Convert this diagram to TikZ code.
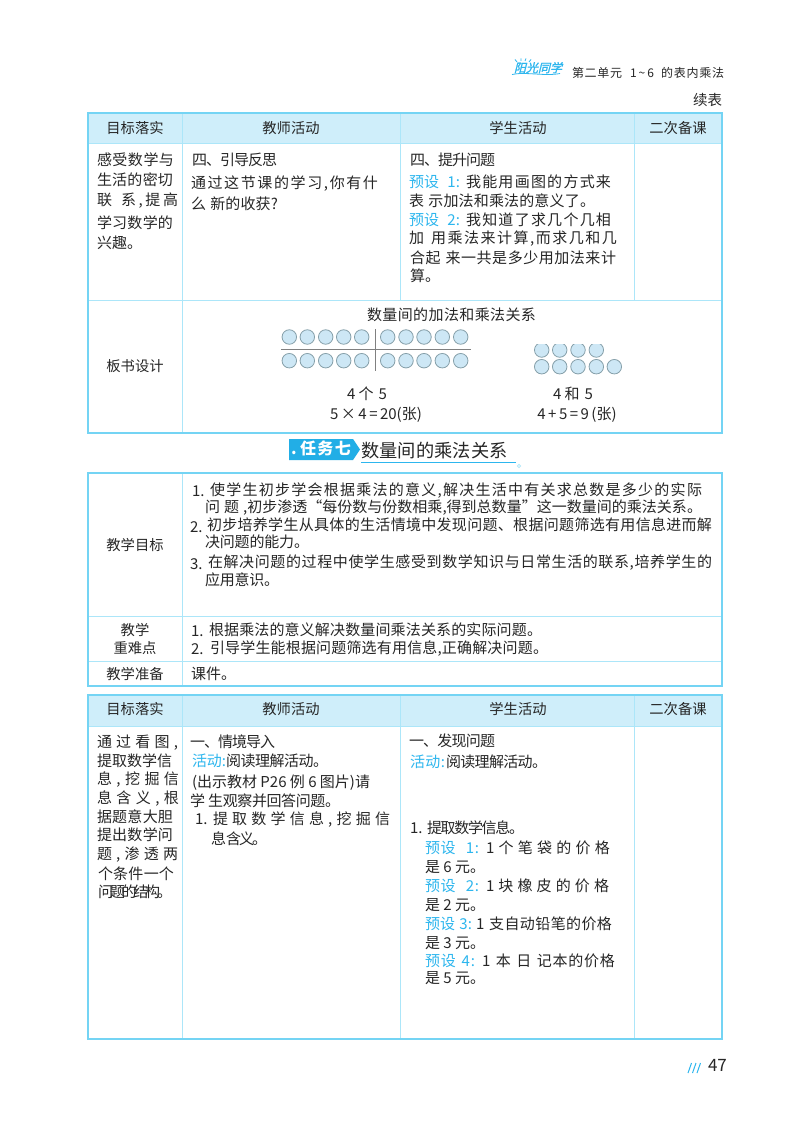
\documentclass[tikz,border=0pt]{standalone}
\usepackage{fontspec}
\setmainfont{Noto Sans CJK SC}
\newfontfamily\logofont[FakeSlant=0.25,FakeBold=1.5]{Noto Sans CJK SC}
\definecolor{ink}{HTML}{262626}
\definecolor{cy}{HTML}{2DB6EE}
\definecolor{outerl}{HTML}{74D4F4}
\definecolor{innerl}{HTML}{ACE6F9}
\definecolor{headf}{HTML}{CFEEFA}
\definecolor{badge}{HTML}{22AEE6}
\definecolor{dotf}{HTML}{CDE7F5}
\definecolor{dotl}{HTML}{86A0AA}
\definecolor{rul}{HTML}{808080}
\newcounter{tc}
\def\Jend{\Jend}
\def\gapw{\hskip 4pt}
\def\Jfirst#1{#1\Jrest}
\def\Jrest#1{\ifx#1\Jend\else\hskip 0pt plus 1fil minus 1fil #1\expandafter\Jrest\fi}
\newcommand\ptx[4][]{\stepcounter{tc}\node[txt,#1] (t\arabic{tc}) at (#2,#3+5.3) {#4};}
\newcommand\pct[4][]{\stepcounter{tc}\node[txt,anchor=base,#1] (t\arabic{tc}) at (#2,#3+5.3) {#4};}
\newcommand\pjt[5][]{\stepcounter{tc}\pgfmathsetlengthmacro\jw{(#3-#2)*1pt}\node[txt,#1] (t\arabic{tc}) at (#2,#4+5.3) {\makebox[\jw][s]{\Jfirst#5\Jend}};}
\tikzset{
 txt/.style={inner sep=0pt,outer sep=0pt,anchor=base west,text=ink,font=\fontsize{15}{15}\selectfont},
 head/.style={font=\fontsize{14.3}{15}\selectfont},
 blue/.style={text=cy},
 outerline/.style={draw=outerl,line width=1.25pt},
 innerline/.style={draw=innerl,line width=1pt},
 headfill/.style={fill=headf,draw=none},
 dotc/.style={circle,draw=dotl,fill=dotf,line width=0.8pt,minimum size=14.5pt,inner sep=0pt},
 rulel/.style={draw=rul,line width=0.9pt},
}
\begin{document}
\begin{tikzpicture}[x=1pt,y=-1pt]
\useasboundingbox (0,0) rectangle (800,1123);
\fill[white] (0,0) rectangle (800,1123);
% logo
\ptx[text=cy,font=\logofont\fontsize{12}{12}\selectfont]{514}{67}{阳光同学}
\ptx[text=cy,font=\fontsize{5}{5}\selectfont]{561}{62}{®}
\draw[cy,line width=0.8pt] (512,74.5) .. controls (525,71.5) and (545,76.5) .. (560,73.5);
\draw[cy,line width=0.8pt] (517,62) -- (515,59.5) (521,61) -- (521,58.5) (525,61) -- (526,58.5) (529,62) -- (531,59.5);
% running head
\pjt[font=\fontsize{12}{12}\selectfont]{572}{622}{72}{第二单元}
\ptx[font=\fontsize{12}{12}\selectfont]{630}{72}{1\,\textasciitilde\,6}
\pjt[font=\fontsize{12}{12}\selectfont]{661}{724}{72}{的表内乘法}
\pjt[font=\fontsize{14.5}{15}\selectfont]{693}{722}{100}{续表}
% table 1
\fill[headfill] (88,113) rectangle (722,144);
\draw[innerline] (88,144) -- (722,144) (88,300) -- (722,300);
\draw[innerline] (182,113) -- (182,433) (400,113) -- (400,300) (634,113) -- (634,300);
\draw[outerline] (88,113) rectangle (722,433);
\pct[head]{135}{128}{目标落实}
\pct[head]{291}{128}{教师活动}
\pct[head]{518}{128}{学生活动}
\pct[head]{678}{128}{二次备课}
\pjt{97}{174}{160}{感受数学与}
\pjt{97}{173}{180}{生活的密切}
\pjt{97}{178}{200}{联\gapw 系,提高}
\pjt{97}{173}{223}{学习数学的}
\ptx{97}{243}{兴趣。}
\pjt{192}{277}{160}{四、引导反思}
\pjt{191}{378}{183}{通过这节课的学习,你有什}
\pjt{191}{278}{204}{么\gapw 新的收获?}
\pjt{410}{495}{160}{四、提升问题}
\pjt[blue]{409}{460}{182}{预设\gapw\gapw 1:}
\pjt{466}{611}{182}{我能用画图的方式来}
\pjt{409}{595}{201}{表\gapw 示加法和乘法的意义了。}
\pjt[blue]{409}{460}{220}{预设\gapw\gapw 2:}
\pjt{466}{611}{220}{我知道了求几个几相}
\pjt{409}{617}{238}{加\gapw 用乘法来计算,而求几和几}
\pjt{410}{616}{258}{合起\gapw 来一共是多少用加法来计}
\ptx{410}{276}{算。}
\pct[head]{135}{366}{板书设计}
\pjt{367}{536}{315}{数量间的加法和乘法关系}
% dots
\foreach \i/\dx in {1/289.3,2/307.3,3/325.7,4/343.7,5/361.7,6/387.7,7/406,8/424,9/442.3,10/460.7}{
  \node[dotc] (up\i) at (\dx,337) {};
  \node[dotc] (lo\i) at (\dx,360.7) {};
}
\draw[rulel] (281,349.3) -- (470.7,349.3);
\draw[rulel] (375.7,329) -- (375.7,370.7);
\begin{scope}
\clip (530,344.3) rectangle (625,380);
\foreach \i/\dx in {1/541.7,2/559.7,3/578,4/596.3}
  \node[dotc] (ru\i) at (\dx,350) {};
\end{scope}
\foreach \i/\dx in {1/541.7,2/559.7,3/578,4/596.3,5/614.3}
  \node[dotc] (rl\i) at (\dx,366.7) {};
\pct{367}{394}{4 个\,\,5}
\pct{376}{414}{5\,×\,4\,=\,20(张)}
\pct{573}{394}{4 和\,\,5}
\pct{577}{414}{4\,+\,5\,=\,9\,(张)}
% title
\fill[badge] (289,439) -- (353,439) -- (360,449.5) -- (353,460) -- (289,460) -- cycle;
\ptx[text=white,font=\bfseries\fontsize{16}{17}\selectfont]{291}{449}{.}
\pjt[text=white,font=\bfseries\fontsize{16}{17}\selectfont]{300}{351}{449.5}{任务七}
\pjt[font=\fontsize{18.2}{19}\selectfont]{361}{508}{452}{数量间的乘法关系}
\draw[cy,line width=1pt] (361,462) -- (516,462);
\draw[innerl,line width=0.6pt,fill=white] (519,466) circle (1.6);
% table 2
\draw[innerline] (88,616) -- (722,616) (88,661) -- (722,661) (182,473) -- (182,686);
\draw[outerline] (88,473) rectangle (722,686);
\pct[head]{135}{545}{教学目标}
\ptx{192}{491}{1.}
\pjt{210}{702}{490}{使学生初步学会根据乘法的意义,解决生活中有关求总数是多少的实际}
\pjt{205}{702}{507}{问\gapw 题\gapw,初步渗透“每份数与份数相乘,得到总数量”这一数量间的乘法关系。}
\ptx{190}{527}{2.}
\pjt{207}{712}{525}{初步培养学生从具体的生活情境中发现问题、根据问题筛选有用信息进而解}
\pjt{205}{309}{542}{决问题的能力。}
\ptx{190}{564}{3.}
\pjt{208}{712}{562}{在解决问题的过程中使学生感受到数学知识与日常生活的联系,培养学生的}
\pjt{205}{279}{580}{应用意识。}
\pct[head]{135}{630}{教学}
\pct[head]{135}{648}{重难点}
\ptx{191}{631}{1.}
\pjt{209}{542}{630}{根据乘法的意义解决数量间乘法关系的实际问题。}
\ptx{191}{649}{2.}
\pjt{210}{548}{648}{引导学生能根据问题筛选有用信息,正确解决问题。}
\pct[head]{135}{674}{教学准备}
\ptx{191}{674}{课件。}
% table 3
\fill[headfill] (88,695) rectangle (722,726);
\draw[innerline] (88,726) -- (722,726);
\draw[innerline] (182,695) -- (182,1039) (400,695) -- (400,1039) (634,695) -- (634,1039);
\draw[outerline] (88,695) rectangle (722,1039);
\pct[head]{135}{709}{目标落实}
\pct[head]{291}{709}{教师活动}
\pct[head]{518}{709}{学生活动}
\pct[head]{678}{709}{二次备课}
\pjt{97}{178}{742}{通过看图,}
\pjt{97}{172}{761}{提取数学信}
\pjt{97}{179}{779}{息,挖掘信}
\pjt{97}{179}{798}{息含义,根}
\pjt{97}{173}{817}{据题意大胆}
\pjt{97}{173}{835}{提出数学问}
\pjt{97}{178}{854}{题,渗透两}
\pjt{98}{174}{874}{个条件一个}
\pjt{98}{172}{892}{问题的结构。}
\pjt{190}{275}{742}{一、情境导入}
\pjt[blue]{192}{226}{761}{活动:}
\pjt{226}{328}{761}{阅读理解活动。}
\ptx{192}{782}{(出示教材 P26 例 6 图片)请}
\pjt{190}{340}{801}{学\gapw 生观察并回答问题。}
\ptx{195}{819}{1.}
\pjt{213}{390}{819}{提取数学信息,挖掘信}
\pjt{211}{267}{839}{息\gapw 含义。}
\pjt{409}{495}{741}{一、发现问题}
\pjt[blue]{410}{445}{762}{活动:}
\pjt{446}{547}{762}{阅读理解活动。}
\ptx{410}{828}{1.}
\pjt{427}{524}{828}{提取数学信息。}
\pjt[blue]{425}{479}{848}{预设\gapw\gapw 1:}
\pjt{486}{610}{848}{1个笔袋的价格}
\ptx{425}{867}{是 6 元。}
\pjt[blue]{425}{479}{886}{预设\gapw\gapw 2:}
\pjt{486}{609}{886}{1块橡皮的价格}
\ptx{425}{905}{是 2 元。}
\pjt[blue]{425}{472}{924}{预设\gapw 3:}
\pjt{476}{612}{924}{1\gapw 支自动铅笔的价格}
\ptx{425}{943}{是 3 元。}
\pjt[blue]{425}{475}{961}{预设\gapw 4:}
\pjt{482}{615}{961}{1\gapw 本\gapw 日\gapw 记本的价格}
\ptx{425}{978}{是 5 元。}
% folio
\draw[cy,line width=1pt] (688,1073) -- (691.5,1063) (692.5,1073) -- (696,1063) (697,1073) -- (700.5,1063);
\ptx[font=\fontsize{17}{17}\selectfont]{708}{1066}{47}
\end{tikzpicture}
\end{document}
